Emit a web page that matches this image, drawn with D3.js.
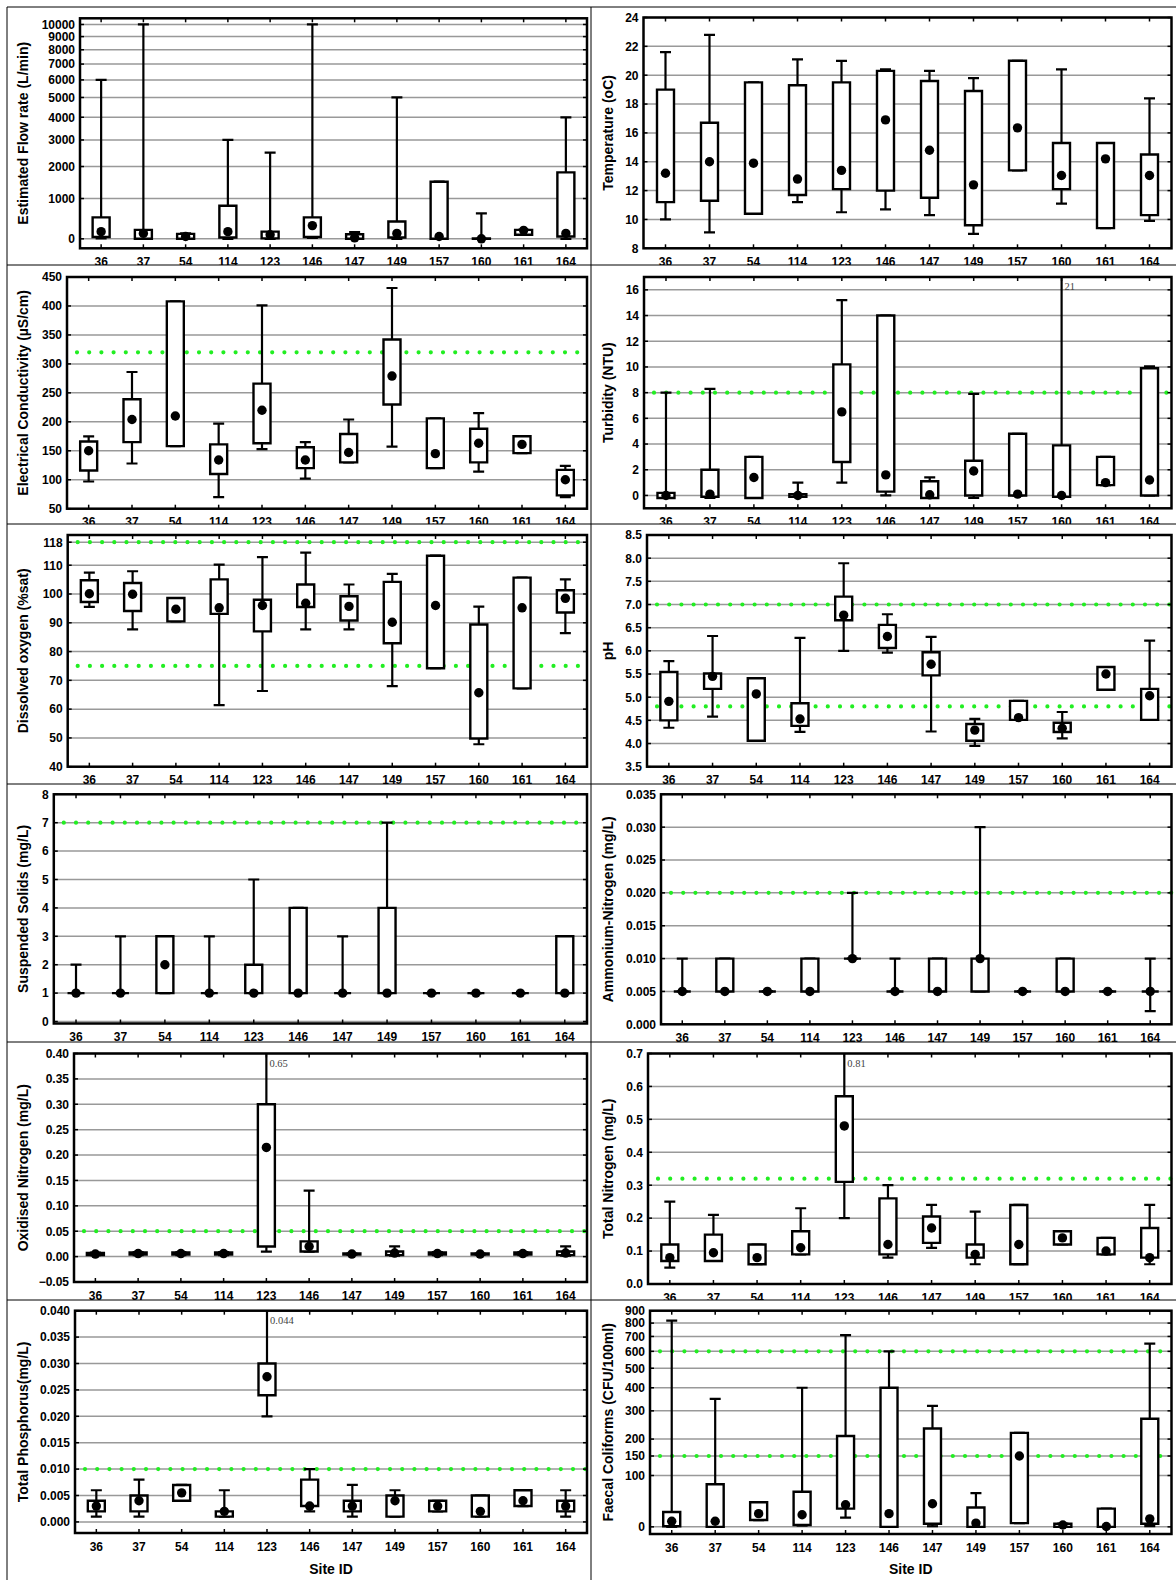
<!DOCTYPE html>
<html>
<head>
<meta charset="utf-8">
<script src="https://cdn.jsdelivr.net/npm/d3@7"></script>
<style>
  body { margin: 0; background: #fff; }
  svg { display: block; font-family: "Liberation Sans", Arial, sans-serif; }
</style>
</head>
<body>
<svg id="fig" width="1176" height="1580"></svg>
<script>
// ---- data: one row per site, [min, q1, median, q3, max] ----
const sites = ["36", "37", "54", "114", "123", "146", "147", "149", "157", "160", "161", "164"];

const flowRate = [
  [10, 40, 160, 500, 6000], [0, 0, 120, 200, 10000], [0, 0, 50, 110, 120], [0, 30, 160, 800, 3000],
  [0, 10, 90, 160, 2500], [20, 40, 300, 500, 10000], [0, 0, 20, 100, 150], [0, 30, 120, 400, 5000],
  [0, 0, 50, 1500, 1500], [0, 0, 0, 10, 600], [90, 90, 190, 200, 200], [0, 50, 120, 1800, 4000]
];
const temperature = [
  [10.0, 11.2, 13.2, 19.0, 21.6], [9.1, 11.3, 14.0, 16.7, 22.8], [10.4, 10.4, 13.9, 19.5, 19.5], [11.2, 11.7, 12.8, 19.3, 21.1],
  [10.5, 12.1, 13.4, 19.5, 21.0], [10.7, 12.0, 16.9, 20.3, 20.4], [10.3, 11.5, 14.8, 19.6, 20.3], [9.0, 9.6, 12.4, 18.9, 19.8],
  [13.4, 13.4, 16.35, 21.0, 21.0], [11.1, 12.1, 13.05, 15.3, 20.4], [9.4, 9.4, 14.2, 15.3, 15.3], [9.9, 10.3, 13.05, 14.5, 18.4]
];
const conductivity = [
  [97, 116, 150, 166, 175], [128, 165, 204, 239, 286], [158, 158, 210, 408, 408], [70, 110, 134, 161, 197],
  [153, 163, 220, 266, 401], [102, 120, 134, 156, 165], [130, 130, 147, 179, 204], [157, 230, 279, 342, 431],
  [120, 120, 145, 206, 206], [114, 130, 163, 188, 215], [146, 146, 161, 175, 175], [70, 73, 100, 117, 124]
];
const turbidity = [
  [-0.2, -0.2, 0, 0.2, 8.0], [-0.2, -0.1, 0.1, 2.0, 8.3], [-0.2, -0.2, 1.4, 3.0, 3.0], [-0.1, -0.1, 0, 0.1, 1.0],
  [1.0, 2.6, 6.5, 10.2, 15.2], [0, 0.3, 1.6, 14.0, 14.0], [-0.2, -0.2, 0.05, 1.1, 1.4], [-0.2, 0, 1.9, 2.7, 7.9],
  [0, 0, 0.1, 4.8, 4.8], [-0.1, -0.1, 0, 3.9, 21], [0.8, 0.8, 1.0, 3.0, 3.0], [0, 0, 1.2, 9.9, 10.05]
];
const dissolvedOxygen = [
  [95.5, 97.2, 100.1, 104.8, 107.4], [87.7, 94.1, 99.9, 103.8, 107.9], [90.5, 90.5, 94.7, 98.6, 98.6], [61.4, 93.1, 95.2, 105.1, 110.2],
  [66.3, 87.0, 96.0, 98.0, 112.8], [87.7, 95.5, 96.8, 103.3, 114.4], [87.7, 90.8, 95.7, 99.2, 103.3], [68.0, 82.9, 90.2, 104.2, 107.0],
  [74.2, 74.2, 96.0, 113.3, 113.3], [47.8, 49.8, 65.7, 89.4, 95.6], [67.2, 67.2, 95.2, 105.7, 105.7], [86.4, 93.6, 98.5, 101.3, 105.1]
];
const pH = [
  [4.34, 4.5, 4.91, 5.545, 5.78], [4.58, 5.18, 5.45, 5.51, 6.32], [4.06, 4.06, 5.07, 5.41, 5.41], [4.25, 4.38, 4.53, 4.87, 6.28],
  [6.0, 6.66, 6.77, 7.17, 7.89], [5.96, 6.06, 6.31, 6.56, 6.79], [4.26, 5.47, 5.71, 5.97, 6.3], [3.95, 4.06, 4.29, 4.42, 4.53],
  [4.51, 4.51, 4.56, 4.92, 4.92], [4.11, 4.25, 4.33, 4.45, 4.68], [5.16, 5.16, 5.5, 5.65, 5.65], [4.51, 4.51, 5.03, 5.18, 6.22]
];
const suspendedSolids = [
  [1, 1, 1, 1, 2], [1, 1, 1, 1, 3], [1, 1, 2, 3, 3], [1, 1, 1, 1, 3],
  [1, 1, 1, 2, 5], [1, 1, 1, 4, 4], [1, 1, 1, 1, 3], [1, 1, 1, 4, 7],
  [1, 1, 1, 1, 1], [1, 1, 1, 1, 1], [1, 1, 1, 1, 1], [1, 1, 1, 3, 3]
];
const ammoniumN = [
  [0.005, 0.005, 0.005, 0.005, 0.010], [0.005, 0.005, 0.005, 0.010, 0.010], [0.005, 0.005, 0.005, 0.005, 0.005], [0.005, 0.005, 0.005, 0.010, 0.010],
  [0.010, 0.010, 0.010, 0.010, 0.020], [0.005, 0.005, 0.005, 0.005, 0.010], [0.005, 0.005, 0.005, 0.010, 0.010], [0.005, 0.005, 0.010, 0.010, 0.030],
  [0.005, 0.005, 0.005, 0.005, 0.005], [0.005, 0.005, 0.005, 0.010, 0.010], [0.005, 0.005, 0.005, 0.005, 0.005], [0.002, 0.005, 0.005, 0.005, 0.010]
];
const oxidisedN = [
  [0.003, 0.003, 0.005, 0.007, 0.008], [0.003, 0.004, 0.006, 0.008, 0.009], [0.003, 0.004, 0.006, 0.008, 0.009], [0.003, 0.004, 0.006, 0.008, 0.009],
  [0.010, 0.020, 0.215, 0.300, 0.65], [0.010, 0.010, 0.020, 0.030, 0.130], [0.004, 0.004, 0.005, 0.006, 0.006], [0.002, 0.003, 0.007, 0.010, 0.020],
  [0.003, 0.004, 0.006, 0.008, 0.009], [0.004, 0.004, 0.005, 0.006, 0.006], [0.003, 0.004, 0.006, 0.008, 0.009], [0.002, 0.003, 0.007, 0.010, 0.020]
];
const totalN = [
  [0.05, 0.07, 0.08, 0.12, 0.25], [0.07, 0.07, 0.095, 0.15, 0.21], [0.06, 0.06, 0.08, 0.12, 0.12], [0.09, 0.09, 0.11, 0.16, 0.23],
  [0.20, 0.31, 0.48, 0.57, 0.81], [0.08, 0.09, 0.12, 0.26, 0.30], [0.11, 0.125, 0.17, 0.205, 0.24], [0.06, 0.08, 0.09, 0.12, 0.22],
  [0.06, 0.06, 0.12, 0.24, 0.24], [0.12, 0.12, 0.14, 0.16, 0.16], [0.09, 0.09, 0.10, 0.14, 0.14], [0.06, 0.08, 0.08, 0.17, 0.24]
];
const totalP = [
  [0.001, 0.002, 0.003, 0.004, 0.006], [0.001, 0.002, 0.004, 0.005, 0.008], [0.004, 0.004, 0.0055, 0.007, 0.007], [0.001, 0.001, 0.002, 0.002, 0.006],
  [0.020, 0.024, 0.0275, 0.030, 0.044], [0.002, 0.003, 0.003, 0.008, 0.010], [0.001, 0.002, 0.003, 0.004, 0.007], [0.001, 0.001, 0.004, 0.005, 0.006],
  [0.002, 0.002, 0.003, 0.004, 0.004], [0.001, 0.001, 0.002, 0.005, 0.005], [0.003, 0.003, 0.004, 0.006, 0.006], [0.001, 0.002, 0.003, 0.004, 0.006]
];
const faecalColiforms = [
  [0, 1, 9, 25, 820], [0, 0, 9, 80, 350], [11, 11, 22, 43, 43], [2, 3, 20, 64, 400],
  [15, 31, 38, 210, 710], [0, 0, 22, 400, 600], [1, 5, 40, 235, 320], [0, 0, 6, 33, 61],
  [6, 6, 150, 220, 220], [0, 0, 3, 5, 5], [0, 0, 0.5, 31, 31], [1, 5, 13, 270, 650]
];

// ---- tick labels ----
const flowTicks = [0, 1000, 2000, 3000, 4000, 5000, 6000, 7000, 8000, 9000, 10000];
const tempTicks = [8, 10, 12, 14, 16, 18, 20, 22, 24];
const ecTicks = [50, 100, 150, 200, 250, 300, 350, 400, 450];
const turbTicks = [0, 2, 4, 6, 8, 10, 12, 14, 16];
const doTicks = [40, 50, 60, 70, 80, 90, 100, 110, 118];
const phTicks = [3.5, 4.0, 4.5, 5.0, 5.5, 6.0, 6.5, 7.0, 7.5, 8.0, 8.5];
const ssTicks = [0, 1, 2, 3, 4, 5, 6, 7, 8];
const nh4Ticks = [0, 0.005, 0.010, 0.015, 0.020, 0.025, 0.030, 0.035];
const noxTicks = [-0.05, 0, 0.05, 0.10, 0.15, 0.20, 0.25, 0.30, 0.35, 0.40];
const tnTicks = [0, 0.1, 0.2, 0.3, 0.4, 0.5, 0.6, 0.7];
const tpTicks = [0, 0.005, 0.010, 0.015, 0.020, 0.025, 0.030, 0.035, 0.040];
const fcTicks = [0, 100, 150, 200, 300, 400, 500, 600, 700, 800, 900];

// guideline values (dotted green)
const ecGuide = [320], turbGuide = [8], doGuide = [118, 75], phGuide = [7.0, 4.8];
const ssGuide = [7], nh4Guide = [0.020], noxGuide = [0.05], tnGuide = [0.32], tpGuide = [0.010], fcGuide = [600, 150];

// ---- panel definitions ----
const panels = [
  { data: flowRate, title: "Estimated Flow rate (L/min)", ticks: flowTicks, fmt: d3.format("d"), domain: [-200, 10540], offset: 3400, guides: [], col: 0, row: 0, frame: [80, 18.3, 587, 248.3] },
  { data: temperature, title: "Temperature (oC)", ticks: tempTicks, fmt: d3.format("d"), domain: [8, 24], guides: [], col: 1, row: 0, frame: [643.5, 17.5, 1171.5, 248.3] },
  { data: conductivity, title: "Electrical Conductivity (\u00b5S/cm)", ticks: ecTicks, fmt: d3.format("d"), domain: [50, 450], guides: ecGuide, col: 0, row: 1, frame: [67, 277, 587, 508.7] },
  { data: turbidity, title: "Turbidity (NTU)", ticks: turbTicks, fmt: d3.format("d"), domain: [-1, 17], guides: turbGuide, col: 1, row: 1, frame: [644, 277, 1171.5, 508.3], note: 9 },
  { data: dissolvedOxygen, title: "Dissolved oxygen (%sat)", ticks: doTicks, fmt: d3.format("d"), domain: [40, 120.5], guides: doGuide, col: 0, row: 2, frame: [67.7, 535, 587, 766.7] },
  { data: pH, title: "pH", ticks: phTicks, fmt: d3.format(".1f"), domain: [3.5, 8.5], guides: phGuide, col: 1, row: 2, frame: [647, 535, 1171.5, 766.7] },
  { data: suspendedSolids, title: "Suspended Solids (mg/L)", ticks: ssTicks, fmt: d3.format("d"), domain: [-0.07, 8], guides: ssGuide, col: 0, row: 3, frame: [53.8, 794.3, 587, 1023.5] },
  { data: ammoniumN, title: "Ammonium-Nitrogen (mg/L)", ticks: nh4Ticks, fmt: d3.format(".3f"), domain: [0, 0.035], guides: nh4Guide, col: 1, row: 3, frame: [661, 794.3, 1171.5, 1024.3] },
  { data: oxidisedN, title: "Oxidised Nitrogen (mg/L)", ticks: noxTicks, fmt: d3.format(".2f"), domain: [-0.05, 0.40], guides: noxGuide, col: 0, row: 4, frame: [74, 1053.5, 587, 1282], note: 4 },
  { data: totalN, title: "Total Nitrogen (mg/L)", ticks: tnTicks, fmt: d3.format(".1f"), domain: [0, 0.7], guides: tnGuide, col: 1, row: 4, frame: [648, 1053.5, 1171.5, 1284], note: 4 },
  { data: totalP, title: "Total Phosphorus(mg/L)", ticks: tpTicks, fmt: d3.format(".3f"), domain: [-0.0021, 0.040], guides: tpGuide, col: 0, row: 5, frame: [75, 1310.7, 587, 1533], note: 4 },
  { data: faecalColiforms, title: "Faecal Coliforms (CFU/100ml)", ticks: fcTicks, fmt: d3.format("d"), domain: [-11, 903], offset: 200, guides: fcGuide, col: 1, row: 5, frame: [650, 1310.7, 1171.5, 1534] }
];

// ---- layout ----
const cellX = [7, 591, 1176];
const cellY = [7, 265, 524, 784, 1042, 1300, 1580];
const titleX = [23.5, 608.5];
const boxW = 17, capW = 11, dotR = 4.7;
const GREEN = "#22ee22";
const TICK_FONT = 12, TITLE_FONT = 14;

const svg = d3.select("#fig");
const defs = svg.append("defs");

panels.forEach((p, i) => {
  const [L, T, R, B] = p.frame;
  const cx0 = cellX[p.col], cx1 = cellX[p.col + 1];
  const cy0 = cellY[p.row], cy1 = cellY[p.row + 1];

  defs.append("clipPath").attr("id", "cell" + i).append("rect")
    .attr("x", cx0).attr("y", cy0).attr("width", cx1 - cx0).attr("height", cy1 - cy0);
  defs.append("clipPath").attr("id", "plot" + i).append("rect")
    .attr("x", L).attr("y", T).attr("width", R - L).attr("height", B - T);

  const g = svg.append("g").attr("clip-path", `url(#cell${i})`);

  const x = d3.scaleBand().domain(sites).range([L, R]);
  const xc = s => x(s) + x.bandwidth() / 2;
  const shift = p.offset || 0;
  const yScale = p.offset
    ? d3.scaleLog().domain(p.domain.map(v => v + shift)).range([B, T])
    : d3.scaleLinear().domain(p.domain).range([B, T]);
  const y = v => yScale(v + shift);

  // gridlines
  g.append("g").selectAll("line").data(p.ticks).join("line")
    .attr("x1", L).attr("x2", R)
    .attr("y1", d => y(d)).attr("y2", d => y(d))
    .attr("stroke", "#999").attr("stroke-width", 1.5);

  // dotted guideline values
  g.append("g").selectAll("line").data(p.guides).join("line")
    .attr("x1", L + 10).attr("x2", R)
    .attr("y1", d => y(d)).attr("y2", d => y(d))
    .attr("stroke", GREEN).attr("stroke-width", 4.2)
    .attr("stroke-linecap", "round").attr("stroke-dasharray", "0 12.2");

  // box plots
  const marks = g.append("g").attr("clip-path", `url(#plot${i})`);
  const rows = p.data.map((d, k) => ({ site: sites[k], min: d[0], q1: d[1], med: d[2], q3: d[3], max: d[4] }));

  const wh = marks.append("g").attr("stroke", "#000").attr("stroke-width", 2.2);
  rows.forEach(r => {
    const cx = xc(r.site);
    wh.append("line").attr("x1", cx).attr("x2", cx).attr("y1", y(r.q3)).attr("y2", y(r.max));
    wh.append("line").attr("x1", cx).attr("x2", cx).attr("y1", y(r.q1)).attr("y2", y(r.min));
    wh.append("line").attr("x1", cx - capW / 2).attr("x2", cx + capW / 2).attr("y1", y(r.max)).attr("y2", y(r.max));
    wh.append("line").attr("x1", cx - capW / 2).attr("x2", cx + capW / 2).attr("y1", y(r.min)).attr("y2", y(r.min));
  });

  marks.append("g").selectAll("path").data(rows).join("path")
    .attr("d", r => {
      const x0 = xc(r.site) - boxW / 2, x1 = xc(r.site) + boxW / 2;
      return `M${x0},${y(r.q3)}H${x1}V${y(r.q1)}H${x0}Z`;
    })
    .attr("fill", "#fff").attr("stroke", "#000").attr("stroke-width", 2.4)
    .attr("stroke-linejoin", "miter");

  marks.append("g").selectAll("circle").data(rows).join("circle")
    .attr("cx", r => xc(r.site)).attr("cy", r => y(r.med)).attr("r", dotR).attr("fill", "#000");

  // value of the off-scale maximum
  if (p.note != null) {
    const r = rows[p.note];
    g.append("text")
      .attr("x", xc(r.site) + 3).attr("y", T + 13)
      .attr("font-family", "'Liberation Serif', 'Times New Roman', serif")
      .attr("font-size", 10.5).attr("fill", "#444")
      .text(String(r.max));
  }

  // frame and inner tick marks
  g.append("rect").attr("x", L).attr("y", T).attr("width", R - L).attr("height", B - T)
    .attr("fill", "none").attr("stroke", "#000").attr("stroke-width", 2.5);
  const tk = g.append("g").attr("stroke", "#000").attr("stroke-width", 1.5);
  sites.forEach(s => {
    tk.append("line").attr("x1", xc(s)).attr("x2", xc(s)).attr("y1", T).attr("y2", T + 4);
    tk.append("line").attr("x1", xc(s)).attr("x2", xc(s)).attr("y1", B).attr("y2", B - 4);
  });
  p.ticks.forEach(t => {
    tk.append("line").attr("x1", R).attr("x2", R - 4).attr("y1", y(t)).attr("y2", y(t));
    tk.append("line").attr("x1", L).attr("x2", L + 4).attr("y1", y(t)).attr("y2", y(t));
  });

  // axes
  const ya = g.append("g").attr("transform", `translate(${L},0)`)
    .call(d3.axisLeft(yScale).tickValues(p.ticks.map(t => t + shift))
      .tickFormat(t => p.fmt(t - shift)).tickSize(0).tickPadding(5));
  ya.select(".domain").remove();
  ya.selectAll("text").attr("font-size", TICK_FONT).attr("font-weight", "bold").attr("fill", "#000")
    .attr("font-family", "'Liberation Sans', Arial, sans-serif");

  const xa = g.append("g").attr("transform", `translate(0,${B})`)
    .call(d3.axisBottom(x).tickSize(0).tickPadding(9));
  xa.select(".domain").remove();
  xa.selectAll("text").attr("font-size", TICK_FONT).attr("font-weight", "bold").attr("fill", "#000")
    .attr("font-family", "'Liberation Sans', Arial, sans-serif");

  // axis titles
  g.append("text")
    .attr("transform", `translate(${titleX[p.col]},${(T + B) / 2}) rotate(-90)`)
    .attr("text-anchor", "middle").attr("dy", "0.35em")
    .attr("font-size", TITLE_FONT).attr("font-weight", "bold")
    .text(p.title);

  if (p.row === 5) {
    g.append("text")
      .attr("x", (L + R) / 2).attr("y", 1569)
      .attr("text-anchor", "middle").attr("dy", "0.35em")
      .attr("font-size", TITLE_FONT).attr("font-weight", "bold")
      .text("Site ID");
  }
});

// cell borders
const borders = svg.append("g").attr("stroke", "#000").attr("stroke-width", 1);
cellY.slice(0, 6).forEach(yy => borders.append("line").attr("x1", cellX[0]).attr("x2", 1176).attr("y1", yy).attr("y2", yy));
[cellX[0], cellX[1]].forEach(xx => borders.append("line").attr("x1", xx).attr("x2", xx).attr("y1", cellY[0]).attr("y2", 1580));
</script>
</body>
</html>
